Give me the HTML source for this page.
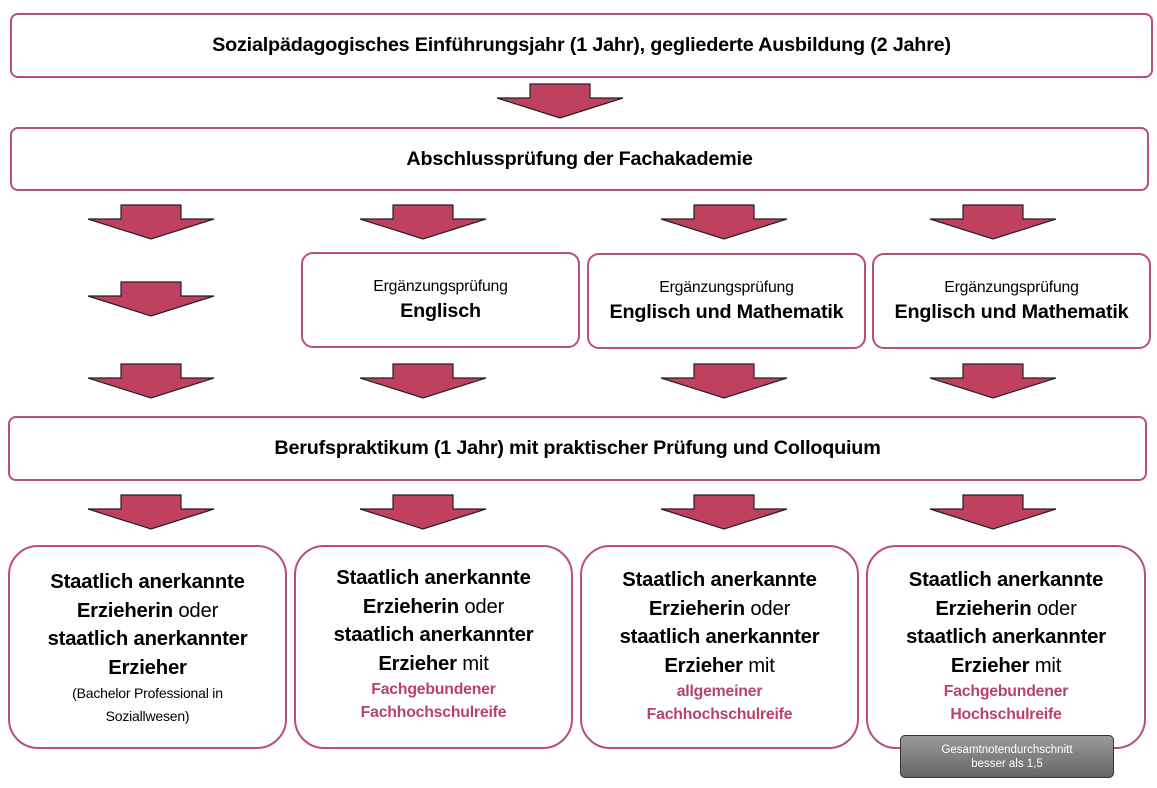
<!DOCTYPE html>
<html><head><meta charset="utf-8"><style>
body{margin:0;width:1157px;height:788px;background:#fff;position:relative;font-family:"Liberation Sans",sans-serif;overflow:hidden}
.b{position:absolute;box-sizing:border-box;border:2px solid #b9506f;background:#fff;display:flex;flex-direction:column;align-items:center;justify-content:center;text-align:center;color:#000}
.t{font-weight:bold;font-size:19.8px;letter-spacing:-0.2px}
.a{position:absolute}
.bt{font-size:20.3px;line-height:28.5px;letter-spacing:-0.2px}
.bt b{font-weight:bold}
.r{color:#b9426a;font-weight:bold;font-size:15.8px;line-height:23px;letter-spacing:-0.2px}
.s{font-size:14px;line-height:23px}
.e{font-size:15.8px;letter-spacing:-0.2px}
</style></head><body>
<div class="b" style="left:10px;top:13px;width:1143px;height:65px;border-radius:8px"><span class="t">Sozialpädagogisches Einführungsjahr (1 Jahr), gegliederte Ausbildung (2 Jahre)</span></div>
<div class="b" style="left:10px;top:127px;width:1139px;height:64px;border-radius:8px"><span class="t">Abschlussprüfung der Fachakademie</span></div>
<div class="b" style="left:301px;top:252px;width:279px;height:96px;border-radius:12px"><span class="e">Ergänzungsprüfung</span><span class="t" style="margin-top:4px">Englisch</span></div>
<div class="b" style="left:587px;top:253px;width:279px;height:96px;border-radius:12px"><span class="e">Ergänzungsprüfung</span><span class="t" style="margin-top:4px">Englisch und Mathematik</span></div>
<div class="b" style="left:872px;top:253px;width:279px;height:96px;border-radius:12px"><span class="e">Ergänzungsprüfung</span><span class="t" style="margin-top:4px">Englisch und Mathematik</span></div>
<div class="b" style="left:8px;top:416px;width:1139px;height:65px;border-radius:8px"><span class="t">Berufspraktikum (1 Jahr) mit praktischer Prüfung und Colloquium</span></div>

<div class="b bt" style="left:8px;top:545px;width:279px;height:204px;border-radius:30px;justify-content:flex-start;padding-top:21px"><div><b>Staatlich anerkannte</b></div><div><b>Erzieherin</b> oder</div><div><b>staatlich anerkannter</b></div><div><b>Erzieher</b></div><div class="s">(Bachelor Professional in</div><div class="s">Soziallwesen)</div></div>
<div class="b bt" style="left:294px;top:545px;width:279px;height:204px;border-radius:30px;justify-content:flex-start;padding-top:17px"><div><b>Staatlich anerkannte</b></div><div><b>Erzieherin</b> oder</div><div><b>staatlich anerkannter</b></div><div><b>Erzieher</b> mit</div><div class="r">Fachgebundener</div><div class="r">Fachhochschulreife</div></div>
<div class="b bt" style="left:580px;top:545px;width:279px;height:204px;border-radius:30px;justify-content:flex-start;padding-top:19px"><div><b>Staatlich anerkannte</b></div><div><b>Erzieherin</b> oder</div><div><b>staatlich anerkannter</b></div><div><b>Erzieher</b> mit</div><div class="r">allgemeiner</div><div class="r">Fachhochschulreife</div></div>
<div class="b bt" style="left:866px;top:545px;width:280px;height:204px;border-radius:30px;justify-content:flex-start;padding-top:19px"><div><b>Staatlich anerkannte</b></div><div><b>Erzieherin</b> oder</div><div><b>staatlich anerkannter</b></div><div><b>Erzieher</b> mit</div><div class="r">Fachgebundener</div><div class="r">Hochschulreife</div></div>
<div style="position:absolute;left:900px;top:735px;width:214px;height:43px;box-sizing:border-box;border:1px solid #333;border-radius:5px;background:linear-gradient(#9a9a9a,#666);color:#fff;font-size:11.5px;line-height:14px;text-align:center;padding-top:7px">Gesamtnotendurchschnitt<br>besser als 1,5</div>

<svg class="a" style="left:0;top:0" width="1157" height="788">
<defs><g id="ar"><polygon points="-30,0 30,0 30,14 63,14 0,34 -63,14 -30,14" fill="#c0415f" stroke="#222" stroke-width="1.2"/></g></defs>
<use href="#ar" x="560" y="84"/>
<use href="#ar" x="151" y="205"/><use href="#ar" x="423" y="205"/><use href="#ar" x="724" y="205"/><use href="#ar" x="993" y="205"/>
<use href="#ar" x="151" y="282"/>
<use href="#ar" x="151" y="364"/><use href="#ar" x="423" y="364"/><use href="#ar" x="724" y="364"/><use href="#ar" x="993" y="364"/>
<use href="#ar" x="151" y="495"/><use href="#ar" x="423" y="495"/><use href="#ar" x="724" y="495"/><use href="#ar" x="993" y="495"/>
</svg>
</body></html>
